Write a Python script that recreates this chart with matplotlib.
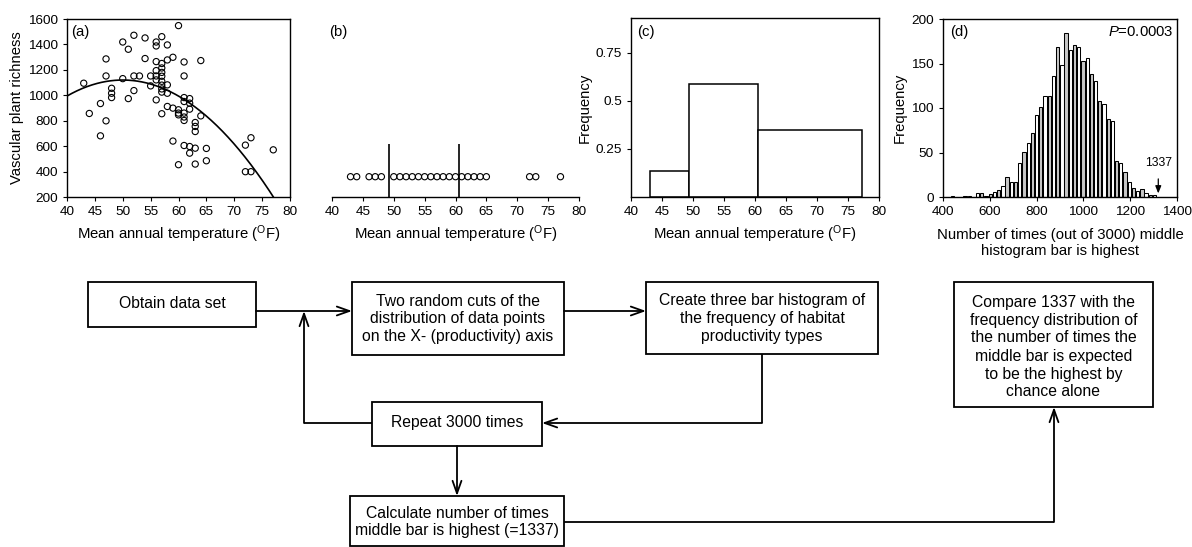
import matplotlib
matplotlib.use('Agg')
import matplotlib.pyplot as plt
import numpy as np

plt.rcParams['font.family'] = ['Liberation Sans', 'DejaVu Sans']
plt.rcParams['mathtext.fontset'] = 'custom'
plt.rcParams['mathtext.rm'] = 'Liberation Sans'
plt.rcParams['mathtext.it'] = 'Liberation Sans:italic'

# ---------------- data ----------------
# panel (a): mean annual temperature (F) vs vascular plant richness
temps = [43, 44, 46, 46, 47, 47, 47, 48, 48, 48, 50, 50, 51, 51, 52, 52, 52, 53,
         54, 54, 55, 55, 56, 56, 56, 56, 56, 56, 56,
         57, 57, 57, 57, 57, 57, 57, 57, 57, 57,
         58, 58, 58, 58, 58, 59, 59, 59, 60, 60, 60, 60, 60,
         61, 61, 61, 61, 61, 61, 61, 61, 62, 62, 62, 62, 62,
         63, 63, 63, 63, 63, 64, 64, 65, 65, 72, 72, 73, 73, 77]
richness = [1095, 857, 935, 681, 1286, 1152, 799, 1055, 1016, 982, 1419, 1131, 1362, 974,
            1472, 1152, 1037, 1152, 1451, 1289, 1152, 1074,
            1419, 1388, 1265, 1194, 1152, 1121, 964,
            1461, 1250, 1215, 1180, 1150, 1110, 1080, 1050, 1025, 855,
            1396, 1278, 1082, 1016, 912, 1299, 899, 640, 1548, 886, 860, 846, 454,
            1262, 1152, 982, 951, 860, 829, 802, 605, 974, 938, 891, 597, 545,
            786, 755, 715, 584, 459, 1273, 838, 582, 485, 608, 399, 666, 399, 571]
# quadratic fit: richness = peak_y - k * (T - peak_x)^2
fit_peak_x = 50.0
fit_peak_y = 1120.0
fit_k = 1.26

# panel (b): two random cuts
cuts = [49.3, 60.5]

# panel (c): three-bar histogram
hist_edges = [43.0, 49.3, 60.5, 77.3]
hist_freq = [0.135, 0.585, 0.35]

# panel (d): distribution of number of times middle bar is highest
d_centers = [440, 458, 476, 494, 512, 530, 548, 566, 584, 602, 620, 638, 656, 674,
             692, 710, 728, 746, 764, 782, 800, 818, 836, 854, 872, 890, 908, 926,
             944, 962, 980, 998, 1016, 1034, 1052, 1070, 1088, 1106, 1124, 1142,
             1160, 1178, 1196, 1214, 1232, 1250, 1268, 1286, 1304]
d_counts = [1, 0, 0, 1, 1, 0, 4, 5, 1, 3, 6, 8, 12, 22,
            17, 17, 38, 51, 61, 72, 92, 101, 113, 113, 136, 169, 148, 184,
            165, 171, 169, 153, 156, 138, 130, 108, 105, 88, 85, 40,
            38, 28, 17, 10, 7, 9, 5, 2, 2]
observed = 1337
p_text = '0.0003'

xlab = r'Mean annual temperature ($^\mathregular{O}$F)'

W, H = 1192, 547
fig = plt.figure(figsize=(W / 100, H / 100), dpi=100)

# ---------------- flowchart (pixel coordinates) ----------------
fc = fig.add_axes([0, 0, 1, 1])
fc.set_xlim(0, W)
fc.set_ylim(H, 0)
fc.axis('off')
fc.patch.set_alpha(0)

LW = 1.3
FS = 11.3


def box(x0, y0, x1, y1, lines, ys):
    fc.add_patch(plt.Rectangle((x0, y0), x1 - x0, y1 - y0, fill=False, lw=LW, ec='black'))
    for t, y in zip(lines, ys):
        fc.text((x0 + x1) / 2, y, t, ha='center', va='center', fontsize=FS)


def line(pts):
    xs, ys = zip(*pts)
    fc.plot(xs, ys, color='black', lw=LW, solid_capstyle='butt')


def arrow(p0, p1):
    fc.annotate('', xy=p1, xytext=p0,
                arrowprops=dict(arrowstyle='->,head_length=0.9,head_width=0.32',
                                lw=LW, color='black', shrinkA=0, shrinkB=0))


box(88, 282, 256, 327, ['Obtain data set'], [303])
box(352, 282, 564, 355, ['Two random cuts of the', 'distribution of data points',
                         'on the X- (productivity) axis'], [302, 319, 337])
box(646, 282, 878, 354, ['Create three bar histogram of', 'the frequency of habitat',
                         'productivity types'], [301, 319, 337])
box(954, 282, 1153, 407, ['Compare 1337 with the', 'frequency distribution of',
                          'the number of times the', 'middle bar is expected',
                          'to be the highest by', 'chance alone'],
    [302, 320, 338, 356, 374, 392])
box(372, 402, 542, 446, ['Repeat 3000 times'], [423])
box(350, 496, 564, 546, ['Calculate number of times', 'middle bar is highest (=1337)'], [513, 531])

arrow((256, 311), (352, 311))
arrow((564, 311), (646, 311))
line([(762, 354), (762, 423)])
arrow((762, 423), (542, 423))
line([(372, 423), (304, 423)])
arrow((304, 423), (304, 311))
arrow((457, 446), (457, 496))
line([(564, 522), (1054, 522)])
arrow((1054, 522), (1054, 407))


# ---------------- panels ----------------
def px_axes(l, t, r, b):
    return fig.add_axes([l / W, 1 - b / H, (r - l) / W, (b - t) / H])


def style(ax):
    ax.tick_params(direction='out', length=3, width=0.8, labelsize=9.7, pad=3.5)
    for s in ax.spines.values():
        s.set_linewidth(1.0)


# (a)
axa = px_axes(67, 19, 290, 197)
axa.scatter(temps, richness, s=20, facecolors='none', edgecolors='black', linewidths=0.8, zorder=3)
tt = np.linspace(40, 80, 400)
axa.plot(tt, fit_peak_y - fit_k * (tt - fit_peak_x) ** 2, color='black', lw=1.2)
axa.set_xlim(40, 80)
axa.set_ylim(200, 1600)
axa.set_xticks(range(40, 81, 5))
axa.set_yticks(range(200, 1601, 200))
axa.set_xlabel(xlab, fontsize=10.7, labelpad=4)
axa.set_ylabel('Vascular plant richness', fontsize=10.7, labelpad=3)
axa.text(0.018, 0.925, '(a)', transform=axa.transAxes, fontsize=10.7, va='center')
style(axa)

# (b)
axb = px_axes(332, 19, 579, 197)
ut = np.unique(temps)
axb.scatter(ut, np.full(len(ut), 0.114), s=20, facecolors='none', edgecolors='black', linewidths=0.8, zorder=3)
axb.vlines(cuts, 0, 0.30, color='black', lw=1.2)
axb.set_xlim(40, 80)
axb.set_ylim(0, 1)
axb.set_xticks(range(40, 81, 5))
axb.set_yticks([])
for s in ['left', 'right', 'top']:
    axb.spines[s].set_visible(False)
axb.set_xlabel(xlab, fontsize=10.7, labelpad=4)
axb.text(-0.01, 0.925, '(b)', transform=axb.transAxes, fontsize=10.7, va='center')
style(axb)

# (c)
axc = px_axes(631, 18, 879, 197)
axc.bar(hist_edges[:-1], hist_freq, width=np.diff(hist_edges), align='edge',
        facecolor='white', edgecolor='black', lw=1.1)
axc.set_xlim(40, 80)
axc.set_ylim(0, 0.93)
axc.set_xticks(range(40, 81, 5))
axc.set_yticks([0.25, 0.5, 0.75])
axc.set_yticklabels(['0.25', '0.5', '0.75'])
axc.set_xlabel(xlab, fontsize=10.7, labelpad=4)
axc.set_ylabel('Frequency', fontsize=10.7, labelpad=3)
axc.text(0.024, 0.92, '(c)', transform=axc.transAxes, fontsize=10.7, va='center')
style(axc)

# (d)
axd = px_axes(943, 19, 1177, 197)
fcs = ['white' if i % 2 == 0 else '0.78' for i in range(len(d_centers))]
axd.bar(d_centers, d_counts, width=14, color=fcs, edgecolor='black', lw=0.75)
axd.set_xlim(400, 1400)
axd.set_ylim(0, 200)
axd.set_xticks(range(400, 1401, 200))
axd.set_yticks(range(0, 201, 50))
axd.set_xlabel('Number of times (out of 3000) middle\nhistogram bar is highest',
               fontsize=10.7, labelpad=7, linespacing=1.2)
axd.set_ylabel('Frequency', fontsize=10.7, labelpad=3)
axd.text(0.03, 0.925, '(d)', transform=axd.transAxes, fontsize=10.7, va='center')
axd.text(0.985, 0.925, r'$\mathit{P}$=' + p_text, transform=axd.transAxes,
         fontsize=10.7, va='center', ha='right')
axd.annotate(str(observed), xy=(1320, 4), xytext=(1320, 38), ha='center', va='center',
             fontsize=8.7,
             arrowprops=dict(arrowstyle='-|>,head_length=0.5,head_width=0.2', lw=0.9,
                             color='black', shrinkA=5, shrinkB=0))
style(axd)

fig.savefig('out.png', dpi=100)
